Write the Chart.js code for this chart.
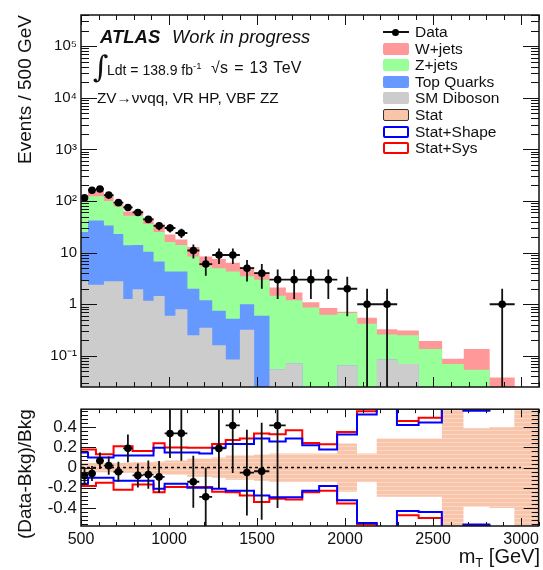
<!DOCTYPE html>
<html>
<head>
<meta charset="utf-8">
<title>mT VR HP VBF ZZ</title>
<script src="https://cdn.jsdelivr.net/npm/chart.js@4.4.1/dist/chart.umd.min.js"></script>
<style>
    body { margin: 0; width: 543px; height: 570px; background: #fff; position: relative; overflow: hidden; font-family: "Liberation Sans", Arial, sans-serif; color: #111; }
    canvas { position: absolute; left: 0; }
    #main { top: 0; }
    #ratio { top: 395px; }
    .txt { position: absolute; white-space: nowrap; line-height: 1; }
    .key { position: absolute; left: 383px; width: 26px; height: 12px; box-sizing: border-box; border-radius: 2px; }
    .lab { position: absolute; left: 415px; font-size: 15.5px; line-height: 1; white-space: nowrap; }
</style>
</head>
<body>
<canvas id="main" width="543" height="400"></canvas>
<canvas id="ratio" width="543" height="175"></canvas>

<div class="txt" style="left:100px;top:28px;font-size:18.5px;font-weight:bold;font-style:italic">ATLAS</div>
<div class="txt" style="left:172px;top:28px;font-size:18.3px;font-style:italic">Work in progress</div>
<div class="txt" style="left:93px;top:52px;font-size:30px;font-family:'DejaVu Serif',serif">&#8747;</div>
<div class="txt" style="left:107px;top:61px;font-size:14px">Ldt = 138.9 fb<sup style="font-size:9.5px;vertical-align:6px">-1</sup></div>
<div class="txt" style="left:211px;top:60px;font-size:16px;word-spacing:1px;letter-spacing:0.3px">&#8730;s = 13 TeV</div>
<div class="txt" style="left:97px;top:90px;font-size:15.3px">ZV&#8594;&#957;&#957;qq, VR HP, VBF ZZ</div>

<div style="position:absolute;left:383px;top:31px;width:26px;height:2px;background:#111"></div>
<div style="position:absolute;left:392px;top:28.5px;width:7px;height:7px;border-radius:50%;background:#000"></div>
<div class="lab" style="top:24px">Data</div>
<div class="key" style="top:43px;background:#ff9999"></div>
<div class="lab" style="top:41px">W+jets</div>
<div class="key" style="top:59px;background:#99ff99"></div>
<div class="lab" style="top:57px">Z+jets</div>
<div class="key" style="top:76px;background:#6699ff"></div>
<div class="lab" style="top:74px">Top Quarks</div>
<div class="key" style="top:92px;background:#cccccc"></div>
<div class="lab" style="top:90px">SM Diboson</div>
<div class="key" style="top:109px;background:#f8c4aa;border:1.5px solid #333"></div>
<div class="lab" style="top:107px">Stat</div>
<div class="key" style="top:126px;background:#fff;border:2px solid #0000ff"></div>
<div class="lab" style="top:124px">Stat+Shape</div>
<div class="key" style="top:142px;background:#fff;border:2px solid #ff0000"></div>
<div class="lab" style="top:140px">Stat+Sys</div>

<div class="txt" style="right:3px;top:546px;font-size:20px">m<sub style="font-size:13px;vertical-align:-4px">T</sub> [GeV]</div>

<script>
// binning in mT (GeV), 30 variable-width bins
const binEdges = [500, 540, 585, 630, 685, 740, 793, 853, 912, 975, 1036, 1104, 1172, 1245, 1322, 1402,
    1483, 1570, 1663, 1757, 1853, 1955, 2068, 2180, 2295, 2418, 2550, 2673, 2820, 2962, 3100]

const dataCounts = [115, 162, 171, 130, 93, 75, 60, 44, 33, 30, 24, 11, 6, 9, 9, 5, 4, 3, 3, 3,
    3, 2, 1, 1, 0, 0, 0, 0, 1, 0]

// backgrounds, per bin
const smDiboson = [2.8, 2.4, 2.4, 2.8, 2.8, 1.26, 1.95, 1.17, 1.45, 0.6, 0.8, 0.25, 0.35, 0.16, 0.085, 0.32, 0, 0.055, 0.072, 0,
    0, 0.066, 0, 0.085, 0.07, 0, 0, 0, 0, 0]
const topQuarks = [22.2, 39.6, 39.6, 30.7, 20.2, 12.7, 12.1, 9.2, 5.3, 3.7, 3.5, 1.75, 0.85, 0.59, 0.44, 0.68, 0.6, 0, 0, 0,
    0, 0, 0, 0, 0, 0, 0, 0, 0, 0]
const zJets = [75, 82, 82, 66.5, 55, 38, 38, 25.6, 18.3, 11.7, 9.7, 6.4, 4.2, 4.25, 3.78, 2.5, 2.4, 1.4, 1.13, 0.87,
    0.63, 0.61, 0.42, 0.175, 0.18, 0.136, 0.07, 0.054, 0, 0]
const wJets = [25, 48, 36, 27.5, 19, 11, 13, 11.3, 11.3, 6.4, 3.9, 4.4, 3.05, 2.56, 2.04, 1.76, 1.15, 0.66, 0.48, 0.23,
    0.22, 0.04, 0.13, 0.07, 0.06, 0.059, 0.018, 0.082, 0.038, 0]

// relative uncertainties for the ratio panel
const statErr = [0.045, 0.045, 0.045, 0.045, 0.045, 0.05, 0.055, 0.055, 0.06, 0.07, 0.07, 0.09, 0.09, 0.1, 0.12,
    0.12, 0.13, 0.14, 0.14, 0.14, 0.14, 0.24, 0.14, 0.29, 0.29, 0.29, 1, 0.39, 0.4, 1]
const shapeUp = [0.15, 0.1, 0.1, 0.1, 0.12, 0.12, 0.12, 0.12, 0.196, 0.149, 0.149, 0.149, 0.14, 0.196, 0.234,
    0.234, 0.29, 0.26, 0.29, 0.221, 0.18, 0.329, 0.528, 1, 0.424, 0.448, 1, 0.565, 1, 1]
const shapeDown = [-0.16, -0.1, -0.1, -0.1, -0.13, -0.13, -0.13, -0.13, -0.209, -0.16, -0.16, -0.2, -0.2, -0.209, -0.23,
    -0.23, -0.278, -0.294, -0.294, -0.23, -0.183, -0.325, -0.55, -1, -0.43, -0.44, -1, -0.565, -1, -1]
const sysUp = [0.18, 0.18, 0.133, 0.133, 0.212, 0.212, 0.164, 0.164, 0.243, 0.2, 0.2, 0.196, 0.196, 0.234, 0.275,
    0.29, 0.338, 0.33, 0.37, 0.244, 0.233, 0.354, 0.56, 1, 0.464, 0.496, 1, 0.575, 1, 1]
const sysDown = [-0.183, -0.183, -0.15, -0.15, -0.22, -0.22, -0.167, -0.167, -0.246, -0.193, -0.193, -0.193, -0.193, -0.24, -0.246,
    -0.278, -0.341, -0.31, -0.316, -0.246, -0.23, -0.357, -0.562, -1, -0.474, -0.5, -1, -0.575, -1, -1]

const eventTicks = [0.1, 1, 10, 100, 1000, 10000, 100000]
const eventTickLabels = ['10\u207B\u00B9', '1', '10', '10\u00B2', '10\u00B3', '10\u2074', '10\u2075']
const ratioTicks = [-0.4, -0.2, 0, 0.2, 0.4]
const massTicks = [500, 1000, 1500, 2000, 2500, 3000]

const X_MIN = 500, X_MAX = 3100
const Y_MIN = 0.025, Y_MAX = 4e5
const R_MIN = -0.58, R_MAX = 0.58
const LOG_FLOOR = 1e-4

Chart.defaults.font.family = '"Liberation Sans", Arial, sans-serif'
Chart.defaults.color = '#111'

const nBins = dataCounts.length
const centres = binEdges.slice(0, -1).map((e, i) => (e + binEdges[i + 1]) / 2)

// stack sums, bottom to top
const stackDiboson = smDiboson.slice()
const stackTop = stackDiboson.map((v, i) => v + topQuarks[i])
const stackZ = stackTop.map((v, i) => v + zJets[i])
const stackTotal = stackZ.map((v, i) => v + wJets[i])

// histogram outline as points on bin edges (last edge repeats last bin)
function steps(values, floor) {
    return binEdges.map((e, i) => {
        const v = values[Math.min(i, nBins - 1)]
        return { x: e, y: floor !== undefined && v <= 0 ? floor : v }
    })
}

// tick marks for the frame
function linearTicks(from, to, step, every) {
    const out = []
    const n = Math.round((to - from) / step)
    for (let k = 0; k <= n; k++) out.push({ value: from + k * step, major: k % every === 0 })
    return out
}

function logTicks(min, max) {
    const out = []
    for (let e = -2; e <= 5; e++) {
        for (let m = 1; m <= 9; m++) {
            const v = m * Math.pow(10, e)
            if (v >= min && v <= max) out.push({ value: v, major: m === 1 })
        }
    }
    return out
}

const frameTicks = {
    id: 'frameTicks',
    afterDatasetsDraw(chart, args, opts) {
        const { ctx, chartArea: a, scales: { x, y } } = chart
        ctx.save()
        ctx.strokeStyle = '#111'
        ctx.lineWidth = 1
        ctx.beginPath()
        for (const t of opts.xTicks) {
            const px = Math.round(x.getPixelForValue(t.value)) + 0.5
            const len = t.major ? opts.xMajor : opts.xMinor
            ctx.moveTo(px, a.bottom); ctx.lineTo(px, a.bottom - len)
            ctx.moveTo(px, a.top); ctx.lineTo(px, a.top + len)
        }
        for (const t of opts.yTicks) {
            const py = Math.round(y.getPixelForValue(t.value)) + 0.5
            const len = t.major ? opts.yMajor : opts.yMinor
            ctx.moveTo(a.left, py); ctx.lineTo(a.left + len, py)
            ctx.moveTo(a.right, py); ctx.lineTo(a.right - len, py)
        }
        ctx.stroke()
        ctx.lineWidth = 1.5
        ctx.strokeRect(a.left, a.top, a.width, a.height)
        ctx.restore()
    }
}

// vertical (sqrt N) and bin-width error bars under the data markers
const errorBars = {
    id: 'errorBars',
    beforeDatasetDraw(chart, args, opts) {
        if (args.index !== 0) return
        const { ctx, chartArea: a, scales: { x, y } } = chart
        const py = v => (opts.log && v <= 0) ? a.bottom + 20 : y.getPixelForValue(v)
        ctx.save()
        ctx.beginPath()
        ctx.rect(a.left, a.top, a.width, a.height)
        ctx.clip()
        ctx.strokeStyle = '#111'
        ctx.lineWidth = 1.8
        ctx.beginPath()
        for (const p of opts.points) {
            const cx = x.getPixelForValue(p.x)
            const cy = y.getPixelForValue(p.y)
            ctx.moveTo(cx, py(p.lo)); ctx.lineTo(cx, py(p.hi))
            ctx.moveTo(x.getPixelForValue(p.x0), cy); ctx.lineTo(x.getPixelForValue(p.x1), cy)
        }
        ctx.stroke()
        ctx.restore()
    }
}

// main panel
const mainPoints = []
const mainBars = []
dataCounts.forEach((n, i) => {
    if (n <= 0) return
    mainPoints.push({ x: centres[i], y: n })
    mainBars.push({ x: centres[i], y: n, lo: n - Math.sqrt(n), hi: n + Math.sqrt(n), x0: binEdges[i], x1: binEdges[i + 1] })
})

const stackStyle = color => ({
    stepped: true, fill: 'start', backgroundColor: color, borderWidth: 0, pointRadius: 0
})

new Chart(document.getElementById('main'), {
    type: 'line',
    data: {
        datasets: [
            { label: 'Data', data: mainPoints, showLine: false, pointRadius: 3.8, pointBackgroundColor: '#000', pointBorderWidth: 0 },
            { label: 'SM Diboson', data: steps(stackDiboson, LOG_FLOOR), ...stackStyle('#cccccc') },
            { label: 'Top Quarks', data: steps(stackTop, LOG_FLOOR), ...stackStyle('#6699ff') },
            { label: 'Z+jets', data: steps(stackZ, LOG_FLOOR), ...stackStyle('#99ff99') },
            { label: 'W+jets', data: steps(stackTotal, LOG_FLOOR), ...stackStyle('#ff9999') }
        ]
    },
    options: {
        responsive: false,
        animation: false,
        layout: { padding: { top: 15, right: 2, bottom: 5, left: 0 } },
        plugins: {
            legend: { display: false },
            tooltip: { enabled: false },
            errorBars: { points: mainBars, log: true },
            frameTicks: {
                xTicks: linearTicks(X_MIN, X_MAX, 100, 5), xMajor: 10, xMinor: 5,
                yTicks: logTicks(Y_MIN, Y_MAX), yMajor: 16, yMinor: 8
            }
        },
        scales: {
            x: { type: 'linear', display: false, min: X_MIN, max: X_MAX },
            y: {
                type: 'logarithmic',
                min: Y_MIN,
                max: Y_MAX,
                afterFit: s => { s.width = 81 },
                afterBuildTicks: s => { s.ticks = eventTicks.map(v => ({ value: v })) },
                ticks: {
                    callback: v => eventTickLabels[eventTicks.indexOf(v)],
                    font: { size: 15 },
                    padding: 4
                },
                grid: { display: false, drawTicks: false },
                border: { display: false },
                title: {
                    display: true, text: 'Events / 500 GeV', align: 'end',
                    font: { size: 19 }, padding: { top: 14, bottom: 0 }
                }
            }
        }
    },
    plugins: [errorBars, frameTicks]
})

// ratio panel
const ratioPoints = []
const ratioBars = []
dataCounts.forEach((n, i) => {
    if (n <= 0) return
    const r = (n - stackTotal[i]) / stackTotal[i]
    if (r > R_MAX || r < R_MIN) return
    const e = Math.sqrt(n) / stackTotal[i]
    ratioPoints.push({ x: centres[i], y: r })
    ratioBars.push({ x: centres[i], y: r, lo: r - e, hi: r + e, x0: binEdges[i], x1: binEdges[i + 1] })
})

const ratioCanvas = document.getElementById('ratio')
function statPattern(target) {
    const tile = document.createElement('canvas')
    tile.width = 4
    tile.height = 4
    const g = tile.getContext('2d')
    g.fillStyle = '#f8c4aa'
    g.fillRect(0, 0, 4, 4)
    g.fillStyle = '#fbd8c6'
    g.fillRect(0, 3, 4, 1)
    return target.getContext('2d').createPattern(tile, 'repeat')
}

const bandLine = color => ({ stepped: true, fill: false, borderColor: color, borderWidth: 2, pointRadius: 0 })

new Chart(ratioCanvas, {
    type: 'line',
    data: {
        datasets: [
            { label: 'Data', data: ratioPoints, showLine: false, pointRadius: 3.8, pointBackgroundColor: '#000', pointBorderWidth: 0 },
            { label: 'zero', data: [{ x: 500, y: 0 }, { x: 3000, y: 0 }], borderColor: '#000', borderWidth: 1.5, borderDash: [3, 3], pointRadius: 0 },
            { label: 'Stat+Shape', data: steps(shapeUp), ...bandLine('#0000ff') },
            { label: 'Stat+Shape low', data: steps(shapeDown), ...bandLine('#0000ff') },
            { label: 'Stat+Sys', data: steps(sysUp), ...bandLine('#ff0000') },
            { label: 'Stat+Sys low', data: steps(sysDown), ...bandLine('#ff0000') },
            { label: 'Stat', data: steps(statErr), stepped: true, fill: '+1', backgroundColor: statPattern(ratioCanvas), borderWidth: 0, pointRadius: 0 },
            { label: 'Stat low', data: steps(statErr.map(v => -v)), stepped: true, fill: false, borderWidth: 0, pointRadius: 0 }
        ]
    },
    options: {
        responsive: false,
        animation: false,
        layout: { padding: { top: 8, right: 2, bottom: 0, left: 0 } },
        plugins: {
            legend: { display: false },
            tooltip: { enabled: false },
            errorBars: { points: ratioBars, log: false },
            frameTicks: {
                xTicks: linearTicks(X_MIN, X_MAX, 100, 5), xMajor: 8, xMinor: 4,
                yTicks: linearTicks(-0.56, 0.56, 0.04, 5).map(t => ({ value: t.value, major: Math.abs(Math.round(t.value * 100)) % 20 === 0 })),
                yMajor: 15, yMinor: 7
            }
        },
        scales: {
            x: {
                type: 'linear',
                min: X_MIN,
                max: X_MAX,
                afterFit: s => { s.height = 44 },
                afterBuildTicks: s => { s.ticks = massTicks.map(v => ({ value: v })) },
                ticks: { font: { size: 16 }, autoSkip: false, maxRotation: 0, padding: 4, callback: v => String(v) },
                grid: { display: false, drawTicks: false },
                border: { display: false }
            },
            y: {
                type: 'linear',
                min: R_MIN,
                max: R_MAX,
                afterFit: s => { s.width = 81 },
                afterBuildTicks: s => { s.ticks = ratioTicks.map(v => ({ value: v })) },
                ticks: { font: { size: 17 }, padding: 4, callback: v => v === 0 ? '0' : v.toFixed(1) },
                grid: { display: false, drawTicks: false },
                border: { display: false },
                title: {
                    display: true, text: '(Data-Bkg)/Bkg', align: 'end',
                    font: { size: 19 }, padding: { top: 14, bottom: 0 }
                }
            }
        }
    },
    plugins: [errorBars, frameTicks]
})
</script>
</body>
</html>
